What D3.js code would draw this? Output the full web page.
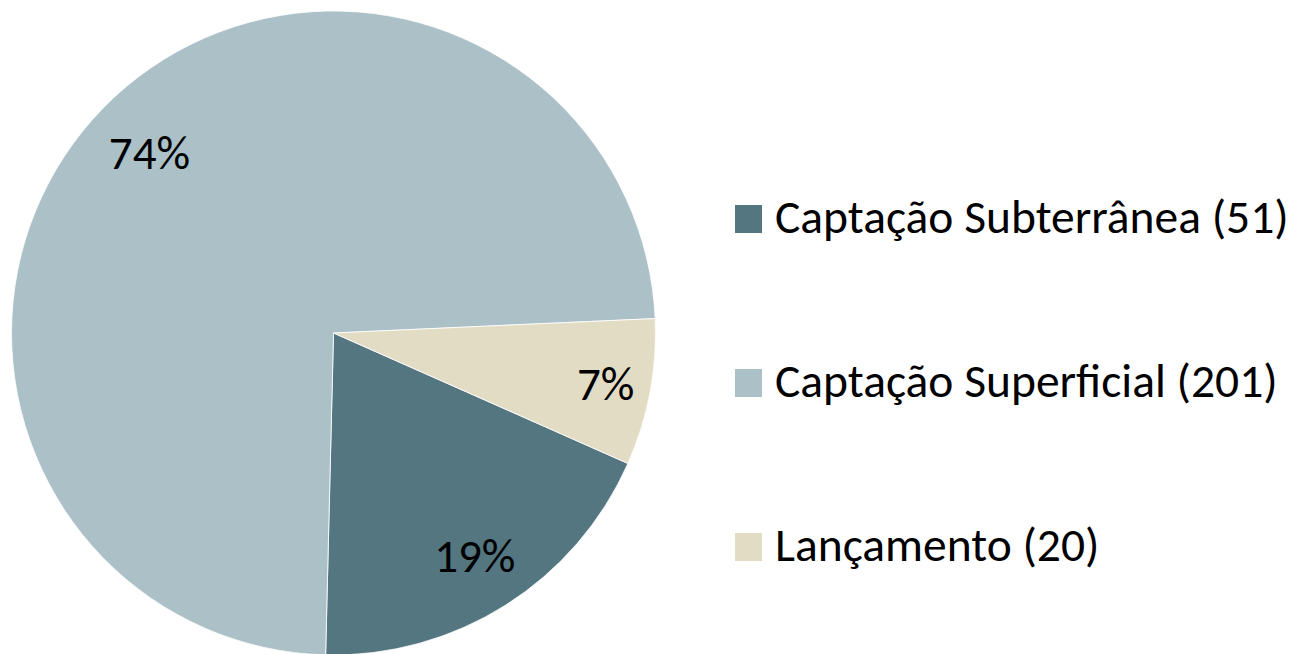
<!DOCTYPE html>
<html>
<head>
<meta charset="utf-8">
<script src="https://cdn.jsdelivr.net/npm/d3@7"></script>
<style>
  body { margin: 0; background: #fff; }
  text { font-family: Carlito, Calibri, "Open Sans", sans-serif; fill: #000; }
</style>
</head>
<body>
<script>
const categories = ['Captação Subterrânea', 'Captação Superficial', 'Lançamento'];
const values = [51, 201, 20];
const colors = ['#537681', '#abc1c7', '#e3dcc4'];
// how far out each percent label sits, as a share of the radius
const labelRadius = [0.82, 0.8, 0.86];

const width = 1299;
const height = 654;
const cx = 333.5, cy = 333, radius = 322;
const startDeg = 113.9;
const fs = 47;

const svg = d3.select('body').append('svg')
    .attr('width', width)
    .attr('height', height);

const total = d3.sum(values);
const data = categories.map((c, i) => ({ name: c, value: values[i], color: colors[i], lr: labelRadius[i] }));

const pie = d3.pie()
    .sort(null)
    .value(d => d.value)
    .startAngle(startDeg * Math.PI / 180)
    .endAngle(startDeg * Math.PI / 180 + 2 * Math.PI);

const arc = d3.arc().innerRadius(0).outerRadius(radius);

const g = svg.append('g').attr('transform', `translate(${cx},${cy})`);

g.selectAll('path')
    .data(pie(data))
    .join('path')
    .attr('d', arc)
    .attr('fill', d => d.data.color)
    .attr('stroke', '#fff')
    .attr('stroke-width', 0.8);

g.selectAll('text')
    .data(pie(data))
    .join('text')
    .attr('transform', d => {
        const r = radius * d.data.lr;
        return `translate(${d3.arc().innerRadius(r).outerRadius(r).centroid(d)})`;
    })
    .attr('text-anchor', 'middle')
    .attr('dy', fs * 0.34)
    .style('font-size', fs + 'px')
    .text(d => Math.round(d.data.value / total * 100) + '%');

const legend = svg.append('g').attr('transform', 'translate(735,0)');
const ly = d3.scalePoint().domain(categories).range([219, 547]);

const item = legend.selectAll('g')
    .data(data)
    .join('g')
    .attr('transform', d => `translate(0,${ly(d.name)})`);

item.append('rect')
    .attr('x', 0)
    .attr('y', -14)
    .attr('width', 27)
    .attr('height', 28)
    .attr('fill', d => d.color);

item.append('text')
    .attr('x', 40)
    .attr('y', 14)
    .style('font-size', '47.5px')
    .text(d => `${d.name} (${d.value})`);
</script>
</body>
</html>
